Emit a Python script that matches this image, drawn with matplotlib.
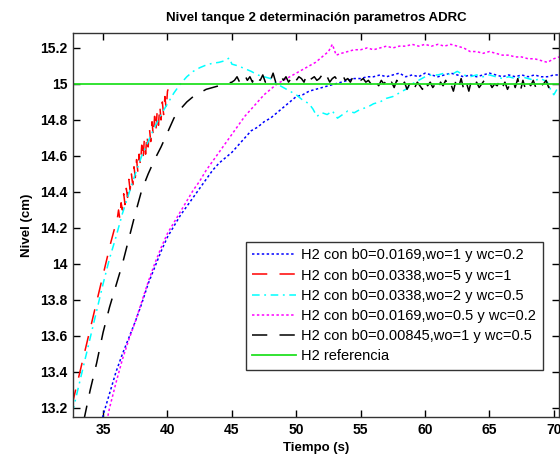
import numpy as np
import matplotlib
matplotlib.use("Agg")
import matplotlib.pyplot as plt

plt.rcParams['font.family'] = ['Liberation Sans', 'DejaVu Sans']

# ---------------- data ----------------
labels = ["H2 con b0=0.0169,wo=1 y wc=0.2",
          "H2 con b0=0.0338,wo=5 y wc=1",
          "H2 con b0=0.0338,wo=2 y wc=0.5",
          "H2 con b0=0.0169,wo=0.5 y wc=0.2",
          "H2 con b0=0.00845,wo=1 y wc=0.5",
          "H2 referencia"]

# blue: b0=0.0169, wo=1, wc=0.2
t_blue = [34.9, 35.0, 35.5, 36.0, 36.5, 37.0, 37.5, 38.0, 38.5, 39.0, 39.5, 40.0,
          40.5, 41.0, 41.5, 42.0, 42.5, 43.0, 43.5, 44.0, 44.5, 45.0, 45.5, 46.0,
          46.5, 47.0, 47.5, 48.0, 48.5, 49.0, 49.5, 50.0, 50.5, 51.0, 51.5, 52.0,
          52.5, 53.0, 53.5, 54.0, 54.5, 55.0, 55.5,
          56.0, 56.5, 57.0, 57.5, 58.0, 58.5, 59.0, 59.5, 60.0, 60.5, 61.0, 61.5,
          62.0, 62.5, 63.0, 63.5, 64.0, 64.5, 65.0, 65.5, 66.0, 66.5, 67.0, 67.5,
          68.0, 68.5, 69.0, 69.5, 70.0, 70.4]
y_blue = [13.12, 13.16, 13.28, 13.40, 13.50, 13.59, 13.68, 13.78, 13.89, 13.98, 14.07, 14.15,
          14.21, 14.27, 14.32, 14.37, 14.42, 14.47, 14.52, 14.56, 14.59, 14.62, 14.66, 14.70,
          14.74, 14.76, 14.79, 14.81, 14.84, 14.87, 14.90, 14.93, 14.94, 14.96, 14.97, 14.98,
          14.99, 15.00, 15.01, 15.02, 15.03, 15.03, 15.04,
          15.04, 15.05, 15.04, 15.05, 15.06, 15.04, 15.05, 15.04, 15.06, 15.05, 15.04, 15.05,
          15.06, 15.05, 15.04, 15.05, 15.04, 15.05, 15.06, 15.05, 15.04, 15.05, 15.04, 15.05,
          15.04, 15.05, 15.04, 15.04, 15.05, 15.05]

# red: b0=0.0338, wo=5, wc=1
t_red = [32.6, 32.9, 33.2, 33.5, 33.8, 34.1, 34.4, 34.7, 35.0, 35.3, 35.6, 35.9,
         36.1, 36.2, 36.3, 36.4, 36.5, 36.6, 36.7, 36.8, 36.9, 37.0, 37.1, 37.2,
         37.3, 37.4, 37.5, 37.6, 37.7, 37.8, 37.9, 38.0, 38.1, 38.2, 38.3, 38.4,
         38.5, 38.6, 38.7, 38.8, 38.9, 39.0, 39.1, 39.2, 39.3, 39.4, 39.5, 39.6,
         39.7, 39.8, 39.9, 40.0, 40.05]
y_red = [13.22, 13.31, 13.40, 13.49, 13.58, 13.67, 13.76, 13.85, 13.94, 14.03, 14.12, 14.20,
         14.25, 14.30, 14.25, 14.34, 14.30, 14.39, 14.33, 14.42, 14.37, 14.47, 14.41, 14.50,
         14.44, 14.54, 14.48, 14.58, 14.51, 14.61, 14.55, 14.66, 14.58, 14.69, 14.61, 14.72,
         14.65, 14.75, 14.68, 14.79, 14.71, 14.82, 14.74, 14.85, 14.77, 14.88, 14.80, 14.90,
         14.83, 14.93, 14.86, 14.96, 14.97]

# cyan: b0=0.0338, wo=2, wc=0.5
t_cyan = [32.6, 33.0, 33.5, 34.0, 34.5, 35.0, 35.5, 36.0, 36.5, 37.0, 37.5, 38.0,
          38.5, 39.0, 39.5, 40.0, 40.5, 41.0, 41.5, 42.0, 42.5, 43.0, 43.5, 44.0,
          44.5, 44.8, 45.0, 45.5, 46.0, 46.5, 47.0, 47.5, 48.0, 48.5, 49.0, 49.5,
          50.0, 50.5, 51.0, 51.3, 51.6, 52.0, 52.4, 52.8, 53.2, 53.6, 54.0, 54.5,
          55.0, 55.5, 56.0, 56.5, 57.0, 57.5, 58.0, 58.5, 59.0, 59.5, 60.0, 60.5,
          61.0, 61.5, 62.0, 62.5, 63.0, 63.5, 64.0, 64.5, 65.0, 65.5, 66.0, 66.5,
          67.0, 67.5, 68.0, 68.5, 69.0, 69.5, 69.8, 70.0, 70.4]
y_cyan = [13.17, 13.29, 13.44, 13.59, 13.74, 13.89, 14.03, 14.15, 14.28, 14.39, 14.50, 14.60,
          14.68, 14.76, 14.83, 14.89, 14.95, 15.00, 15.04, 15.07, 15.09, 15.105, 15.115, 15.12,
          15.13, 15.145, 15.11, 15.10, 15.085, 15.07, 15.05, 15.04, 15.03, 15.00, 14.98, 14.96,
          14.94, 14.91, 14.89, 14.86, 14.82, 14.84, 14.83, 14.85, 14.81, 14.83, 14.85, 14.84,
          14.86, 14.87, 14.89, 14.90, 14.92, 14.93, 14.95, 14.97, 15.00, 15.02, 15.04, 15.05,
          15.05, 15.06, 15.05, 15.07, 15.05, 15.04, 15.05, 15.04, 15.05, 15.04, 15.03, 15.04,
          15.03, 15.04, 15.03, 15.02, 15.03, 15.01, 14.96, 14.94, 14.99]

# magenta: b0=0.0169, wo=0.5, wc=0.2
t_mag = [35.3, 35.5, 36.0, 36.5, 37.0, 37.5, 38.0, 38.5, 39.0, 39.5, 40.0, 40.5,
         41.0, 41.5, 42.0, 42.5, 43.0, 43.5, 44.0, 44.5, 45.0, 45.5, 46.0, 46.5,
         47.0, 47.5, 48.0, 48.5, 49.0, 49.5, 50.0, 50.5, 51.0, 51.5, 52.0, 52.5,
         52.8, 53.1, 53.5, 54.0, 54.5, 55.0, 55.5, 56.0, 56.5, 57.0, 57.5, 58.0,
         58.5, 59.0, 59.5, 60.0, 60.5, 61.0, 61.5, 62.0, 62.5, 63.0, 63.5, 64.0,
         64.5, 65.0, 65.5, 66.0, 66.5, 67.0, 67.5, 68.0, 68.5, 69.0, 69.5, 70.0, 70.4]
y_mag = [13.13, 13.20, 13.34, 13.47, 13.58, 13.68, 13.79, 13.90, 14.00, 14.09, 14.17, 14.23,
         14.29, 14.35, 14.41, 14.46, 14.52, 14.57, 14.62, 14.67, 14.72, 14.77, 14.82, 14.86,
         14.90, 14.94, 14.97, 15.00, 15.02, 15.04, 15.06, 15.08, 15.10, 15.12, 15.15, 15.18,
         15.22, 15.16, 15.17, 15.18, 15.19, 15.19, 15.20, 15.19, 15.20, 15.21, 15.20, 15.21,
         15.21, 15.22, 15.21, 15.22, 15.21, 15.22, 15.21, 15.22, 15.21, 15.20, 15.18, 15.18,
         15.17, 15.18, 15.17, 15.16, 15.16, 15.15, 15.15, 15.14, 15.14, 15.13, 15.12, 15.14, 15.15]

# black: b0=0.00845, wo=1, wc=0.5 (rise, then noisy settling sampled every 0.2 s from 45.2 s)
t_blk_rise = [33.5, 34.0, 34.5, 35.0, 35.5, 36.0, 36.5, 37.0, 37.5, 38.0, 38.5, 39.0,
              39.5, 40.0, 40.5, 41.0, 41.5, 42.0, 42.5, 43.0, 43.5, 44.0, 44.5, 45.0]
y_blk_rise = [13.13, 13.30, 13.45, 13.62, 13.76, 13.88, 14.00, 14.14, 14.28, 14.41, 14.50, 14.58,
              14.65, 14.73, 14.81, 14.86, 14.90, 14.93, 14.95, 14.97, 14.98, 14.99, 15.00, 15.01]
y_blk_noise = [15.02, 15.04, 15.01, 15.03, 15.05, 15.02, 15.04, 15.01, 15.05, 15.03,
               15.02, 15.05, 15.01, 15.04, 15.02, 15.06, 15.01, 15.03, 15.05, 15.02,
               15.04, 15.01, 15.03, 15.05, 15.02, 15.04, 15.03, 15.01, 15.05, 15.02,
               15.03, 15.04, 15.02, 15.03, 15.05, 15.02, 15.04, 15.01, 15.03, 15.04,
               15.02, 15.03, 15.05, 15.02, 15.03, 15.01, 15.04, 15.02, 15.03, 15.02,
               15.03, 15.01, 15.02, 15.00, 15.03, 15.01, 14.99, 15.02, 15.00, 15.02,
               14.99, 15.01, 14.98, 15.02, 15.00,
               14.98, 15.01, 14.97, 15.00, 15.02, 14.98, 15.01, 14.99, 14.97, 15.02,
               14.99, 15.01, 14.98, 15.00, 14.97, 15.01, 14.99, 15.02, 14.98, 15.00,
               14.96, 15.02, 14.98, 15.03, 14.97, 15.01, 14.96, 15.02, 14.99, 15.01,
               14.98, 15.00, 15.02, 14.99, 15.01, 14.98, 15.00, 14.99, 15.02, 14.98,
               15.01, 14.97, 15.00, 15.02, 14.98, 15.03, 14.96, 15.02, 14.97, 15.01,
               14.99, 15.02, 14.98, 15.01, 14.99, 15.00, 15.02, 14.98, 15.01, 14.99, 15.00]
t_blk_noise = list(np.round(45.2 + 0.2 * np.arange(len(y_blk_noise)), 2))
t_blk = t_blk_rise + t_blk_noise
y_blk = y_blk_rise + y_blk_noise

# reference
t_ref = [32.6, 70.4]
y_ref = [15.0, 15.0]

xticks = [35, 40, 45, 50, 55, 60, 65, 70]
yticks = [13.2, 13.4, 13.6, 13.8, 14.0, 14.2, 14.4, 14.6, 14.8, 15.0, 15.2]
ytick_labels = ["13.2", "13.4", "13.6", "13.8", "14", "14.2", "14.4", "14.6", "14.8", "15", "15.2"]

# ---------------- figure ----------------
fig = plt.figure(figsize=(5.6, 4.58), dpi=100)
ax = fig.add_axes([72.7 / 560, 1 - 417 / 458, (559 - 72.7) / 560, (417 - 33) / 458])

lw = 1.1
ax.plot(t_blue, y_blue, color=(0, 0, 1), lw=lw, ls=(0, (1.6, 1.6)), label=labels[0])
ax.plot(t_red, y_red, color=(1, 0, 0), lw=lw, ls=(0, (10, 8)), label=labels[1])
ax.plot(t_cyan, y_cyan, color=(0, 1, 1), lw=lw, ls=(0, (5, 3, 1.2, 3)), label=labels[2])
ax.plot(t_mag, y_mag, color=(1, 0, 1), lw=lw, ls=(0, (1.6, 1.6)), label=labels[3])
ax.plot(t_blk, y_blk, color='black', lw=lw, ls=(0, (10, 8)), label=labels[4])
ax.plot(t_ref, y_ref, color='#22e022', lw=1.3, ls='-', label=labels[5])

ax.set_xlim(32.64, 70.4)
ax.set_ylim(13.15, 15.283)
ax.set_xticks(xticks)
ax.set_xticklabels([str(x) for x in xticks])
ax.set_yticks(yticks)
ax.set_yticklabels(ytick_labels)
ax.tick_params(direction='in', length=5, width=1, top=True, right=True,
               labelsize=10, pad=4)
for lab in ax.get_xticklabels() + ax.get_yticklabels():
    lab.set_fontweight('bold')
for s in ax.spines.values():
    s.set_linewidth(1.0)
    s.set_color('#333333')

ax.set_title("Nivel tanque 2 determinación parametros ADRC", fontsize=9.5,
             fontweight='bold', pad=9)
ax.set_xlabel("Tiempo (s)", fontsize=9.5, fontweight='bold', labelpad=4)
ax.set_ylabel("Nivel (cm)", fontsize=9.5, fontweight='bold', labelpad=5)

leg = ax.legend(loc='upper left', bbox_to_anchor=(0.356, 0.456), borderaxespad=0,
                fancybox=False, framealpha=1, edgecolor='#333333',
                prop={'size': 10.5}, handlelength=3.0, handletextpad=0.35,
                labelspacing=0.42, borderpad=0.45)
leg.get_frame().set_linewidth(1.0)

fig.savefig("out.png", dpi=100)
